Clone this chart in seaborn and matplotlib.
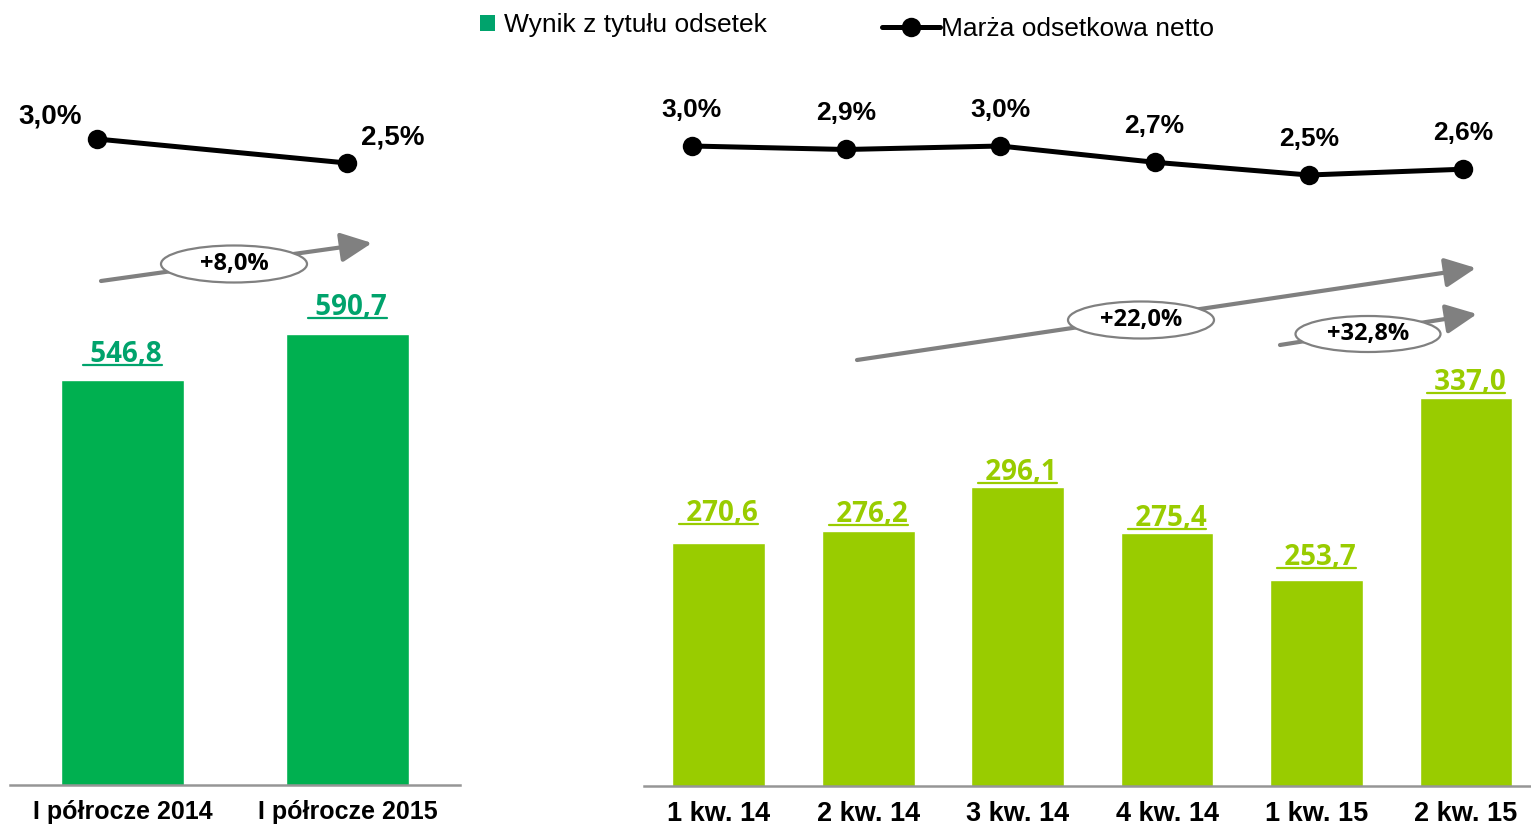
import matplotlib
matplotlib.use("Agg")
import matplotlib.pyplot as plt
import seaborn as sns
import pandas as pd
from matplotlib.patches import Ellipse, Patch
from matplotlib.lines import Line2D
from matplotlib.transforms import IdentityTransform

# data
half_labels = ["I półrocze 2014", "I półrocze 2015"]
half_income = [546.8, 590.7]
half_margin = [3.0, 2.5]

quarter_labels = ["1 kw. 14", "2 kw. 14", "3 kw. 14", "4 kw. 14", "1 kw. 15", "2 kw. 15"]
quarter_income = [270.6, 276.2, 296.1, 275.4, 253.7, 337.0]
quarter_margin = [3.0, 2.94, 3.0, 2.72, 2.5, 2.6]

legend_bar = "Wynik z tytułu odsetek"
legend_line = "Marża odsetkowa netto"

# label lift above each bar (pixels), as placed in the reference
half_lift = [18, 19]
quarter_lift = [22, 9, 7, 7, 15, 8]

GREEN = "#00B050"
GREEN_TXT = "#00A36C"
LIME = "#99CC00"
AXIS_GRAY = "#969696"
ARROW_GRAY = "#808080"

sns.set_theme(style="white")
LABEL_FONT = ["Open Sans", "Liberation Sans"]
plt.rcParams["font.family"] = ["Liberation Sans", "DejaVu Sans"]
plt.rcParams["text.color"] = "black"

W, H = 1531, 825
fig = plt.figure(figsize=(W / 100, H / 100), dpi=100)


def rect(x0, y0, x1, y1):
    # pixel box measured from the top-left corner -> figure fraction
    return [x0 / W, 1 - y1 / H, (x1 - x0) / W, (y1 - y0) / H]


def fmt(v, nd=1):
    return f"{v:.{nd}f}".replace(".", ",")


def bar_panel(box, labels, values, color, width, ylim, xlim, tick_size):
    ax = fig.add_axes(box)
    df = pd.DataFrame({"okres": labels, "wynik": values})
    sns.barplot(data=df, x="okres", y="wynik", color=color, width=width,
                saturation=1, ax=ax)
    ax.set_xlim(*xlim)
    ax.set_ylim(*ylim)
    ax.set_facecolor("none")
    ax.set_yticks([])
    ax.set_xlabel("")
    ax.set_ylabel("")
    for s in ["top", "left", "right"]:
        ax.spines[s].set_visible(False)
    ax.spines["bottom"].set_color(AXIS_GRAY)
    ax.spines["bottom"].set_linewidth(1.8)
    ax.tick_params(axis="x", length=0, pad=11)
    for lbl in ax.get_xticklabels():
        lbl.set_fontweight("bold")
        lbl.set_fontsize(tick_size)
        lbl.set_color("black")
    return ax


def line_panel(box, values, xlim, ylim):
    ax = fig.add_axes(box)
    sns.lineplot(x=list(range(len(values))), y=values, color="black",
                 linewidth=3.6, marker="o", markersize=14, markeredgewidth=0, ax=ax)
    ax.set_xlim(*xlim)
    ax.set_ylim(*ylim)
    ax.set_axis_off()
    return ax


ax_l = bar_panel(rect(10, 60, 460, 785), half_labels, half_income, GREEN, 0.55,
                 (160, 851.8), (-0.5, 1.5), 18)
ax_r = bar_panel(rect(644, 60, 1531, 786), quarter_labels, quarter_income, LIME, 0.62,
                 (159.4, 491.7), (-0.5, 5.435), 19.5)

ax_lm = line_panel(rect(10, 60, 460, 785), half_margin, (-0.348, 1.452), (-10.458, 4.646))
ax_rm = line_panel(rect(644, 60, 1531, 786), quarter_margin, (-0.311, 5.441), (-8.034, 4.483))

# margin labels
for i, (m, off) in enumerate(zip(half_margin, [(-47, 23), (46, 26)])):
    ax_lm.annotate(fmt(m) + "%", (i, m), xytext=off, textcoords="offset pixels",
                   ha="center", va="center", fontsize=20, fontweight="bold", color="black")
for i, m in enumerate(quarter_margin):
    ax_rm.annotate(fmt(m) + "%", (i, m), xytext=(0, 36), textcoords="offset pixels",
                   ha="center", va="center", fontsize=19, fontweight="bold", color="black")

# underlined value labels
value_texts = []
for ax, vals, lifts, col in [(ax_l, half_income, half_lift, GREEN_TXT),
                             (ax_r, quarter_income, quarter_lift, LIME)]:
    for i, (v, lift) in enumerate(zip(vals, lifts)):
        t = ax.annotate(" " + fmt(v), (i, v), xytext=(0, lift), textcoords="offset pixels",
                        ha="center", va="baseline", fontsize=20, fontweight="bold",
                        family=LABEL_FONT, color=col)
        value_texts.append((t, ax, i, v, lift, col))

fig.canvas.draw()
for t, ax, i, v, lift, col in value_texts:
    bb = t.get_window_extent()
    y = ax.transData.transform((i, v))[1] + lift - 3
    fig.add_artist(Line2D([bb.x0, bb.x1], [y, y], color=col, linewidth=1.6,
                          transform=IdentityTransform()))

# growth arrows with ellipse labels
ax_o = fig.add_axes([0, 0, 1, 1])
ax_o.set_xlim(0, W)
ax_o.set_ylim(H, 0)
ax_o.set_axis_off()
ax_o.set_facecolor("none")

arrows = [
    ((101, 281), (372, 243), (234, 264, 146, 37), half_income[1] / half_income[0] - 1),
    ((857, 360), (1476, 268), (1141, 320, 146, 37), quarter_income[5] / quarter_income[1] - 1),
    ((1280, 345), (1477, 314), (1368, 334, 145, 36), quarter_income[5] / quarter_income[4] - 1),
]
for tail, tip, (cx, cy, ew, eh), g in arrows:
    ax_o.annotate("", xy=tip, xytext=tail,
                  arrowprops=dict(arrowstyle="-|>,head_length=0.95,head_width=0.45",
                                  mutation_scale=20, color=ARROW_GRAY, lw=3,
                                  shrinkA=0, shrinkB=0))
    ax_o.add_patch(Ellipse((cx, cy), ew, eh, facecolor="white", edgecolor=ARROW_GRAY,
                           linewidth=1.6, zorder=3))
    ax_o.text(cx, cy, "+" + fmt(g * 100) + "%", ha="center", va="center", fontsize=17,
              fontweight="bold", family=LABEL_FONT, color="black", zorder=4)

# legend
fig.legend(handles=[Patch(facecolor=GREEN_TXT, edgecolor="none")], labels=[legend_bar],
           loc="center left", bbox_to_anchor=(480 / W, 1 - 25 / H), frameon=False,
           borderpad=0, borderaxespad=0, handlelength=0.55, handleheight=0.55,
           handletextpad=0.35, labelcolor="black", prop={"size": 19})
fig.legend(handles=[Line2D([], [], color="black", linewidth=3.6, marker="o",
                           markersize=14, markeredgewidth=0)],
           labels=[legend_line], loc="center left",
           bbox_to_anchor=(882 / W, 1 - 29 / H), frameon=False, borderpad=0,
           borderaxespad=0, handlelength=2.2, handletextpad=0.05,
           labelcolor="black", prop={"size": 19})

fig.savefig("out.png", dpi=100)
